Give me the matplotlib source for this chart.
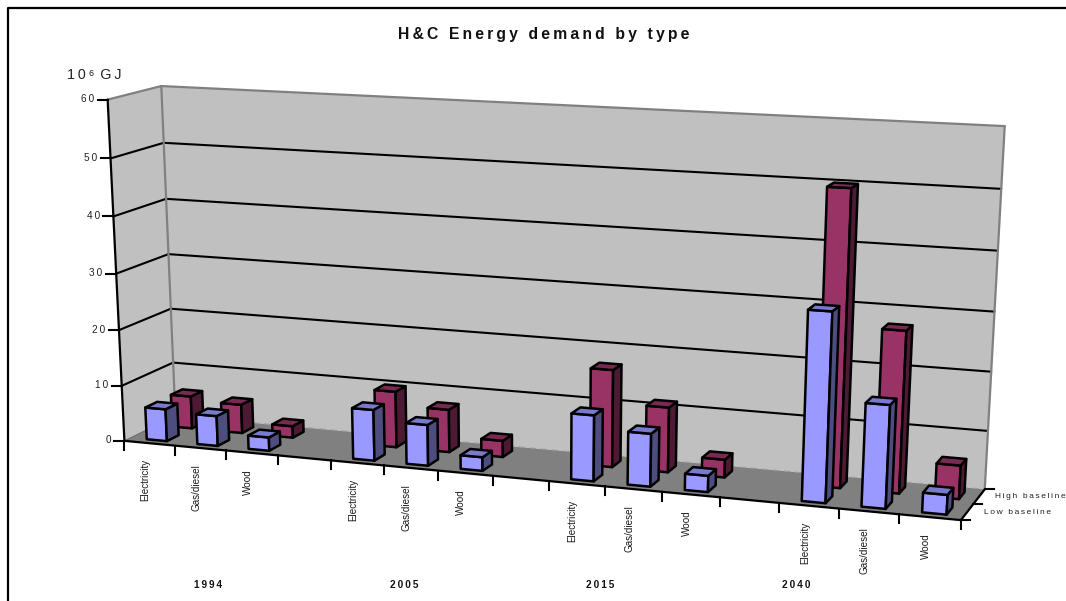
import matplotlib
matplotlib.use('Agg')
import matplotlib.pyplot as plt
import numpy as np
from matplotlib.patches import Polygon

plt.rcParams['font.family'] = ['Liberation Sans', 'DejaVu Sans']

years = ['1994', '2005', '2015', '2040']
fuels = ['Electricity', 'Gas/diesel', 'Wood']
series_names = ['Low baseline', 'High baseline']
low_baseline = [5.8, 5.4, 2.4, 9.0, 7.2, 2.4, 11.4, 9.1, 2.8, 31.8, 17.3, 3.3]
high_baseline = [5.9, 5.2, 2.1, 10.0, 7.6, 2.9, 17.0, 11.3, 3.1, 50.0, 27.4, 5.7]
value_ticks = [0, 10, 20, 30, 40, 50, 60]

BLUE = ('#9999FF', '#4D4D80', '#7A7ACC')
CRIMSON = ('#993366', '#4D1A33', '#7A2952')
N_SLOTS = 15
V_MAX = 60

# view of the box: slot, depth, value -> pixel position
view_points = [
    (0, 0, 0, 126, 441), (0, 0, 30, 114, 273), (0, 0, 60, 108.3, 100),
    (0, 1, 0, 175, 416), (0, 1, 30, 168.5, 254), (0, 1, 60, 161.7, 86),
    (15, 1, 0, 985, 489), (15, 1, 30, 994, 312), (15, 1, 60, 1005, 126),
    (15, 0, 0, 961, 520), (5, 0, 0, 384, 465.5), (10, 0, 0, 662, 492),
]


def fit_view(points):
    rows = []
    for u, d, v, x, y in points:
        p = [u / N_SLOTS, d, v / V_MAX, 1]
        x, y = x / 1000, y / 1000
        rows.append(p + [0, 0, 0, 0] + [-x * c for c in p])
        rows.append([0, 0, 0, 0] + p + [-y * c for c in p])
    _, _, vt = np.linalg.svd(np.array(rows))
    return vt[-1].reshape(3, 4)


VIEW = fit_view(view_points)


def project(u, d, v):
    h = VIEW @ np.array([u / N_SLOTS, d, v / V_MAX, 1])
    return h[0] / h[2] * 1000, h[1] / h[2] * 1000


def face(ax, corners, color, edge='none', lw=0, z=1):
    ax.add_patch(Polygon([project(*c) for c in corners], closed=True, facecolor=color,
                         edgecolor=edge, linewidth=lw, joinstyle='round', zorder=z))


def line(ax, a, b, color='black', lw=1.5, z=2, ls='-'):
    (x0, y0), (x1, y1) = project(*a), project(*b)
    ax.plot([x0, x1], [y0, y1], color=color, lw=lw, zorder=z, ls=ls, solid_capstyle='round')


def bar(ax, slot, depth, value, colors):
    u0, u1 = slot + 0.32, slot + 0.72
    d0, d1 = depth + 0.12, depth + 0.35
    front, side, top = colors
    face(ax, [(u0, d0, 0), (u1, d0, 0), (u1, d0, value), (u0, d0, value)], front, 'black', 1.8, 5)
    face(ax, [(u1, d0, 0), (u1, d1, 0), (u1, d1, value), (u1, d0, value)], side, 'black', 1.8, 5)
    face(ax, [(u0, d0, value), (u1, d0, value), (u1, d1, value), (u0, d1, value)], top, 'black', 1.8, 5)


def tracked(text, gap='\u200a'):
    return gap.join(text)


fig = plt.figure(figsize=(10.66, 6.01), dpi=100)
ax = fig.add_axes([0, 0, 1, 1])
ax.set_xlim(0, 1066)
ax.set_ylim(601, 0)
ax.axis('off')

# outer chart frame runs off the right and bottom edges
ax.plot([8, 8, 1070], [610, 8, 8], color='black', lw=1.6, zorder=1)

# walls and floor
face(ax, [(0, 1, 0), (15, 1, 0), (15, 1, 60), (0, 1, 60)], '#C0C0C0')
face(ax, [(0, 0, 0), (0, 1, 0), (0, 1, 60), (0, 0, 60)], '#C0C0C0')
face(ax, [(0, 0, 0), (15, 0, 0), (15, 1, 0), (0, 1, 0)], '#808080')

for tick in value_ticks[1:-1]:
    line(ax, (0, 0, tick), (0, 1, tick))
    line(ax, (0, 1, tick), (15, 1, tick))

line(ax, (0, 1, 0), (0, 1, 60), '#808080', 1.6)
line(ax, (15, 1, 0), (15, 1, 60), '#808080', 1.6)
line(ax, (0, 0, 60), (0, 1, 60), '#808080', 1.6)
line(ax, (0, 1, 60), (15, 1, 60), '#808080', 1.6)
line(ax, (0, 1, 0), (15, 1, 0), '#9A9A9A', 0.8, ls=(0, (6, 4)))
line(ax, (0, 0, 0), (0, 1, 0), '#6E6E6E', 0.8)

# axis lines
line(ax, (0, 0, 0), (0, 0, 60), lw=1.6, z=3)
line(ax, (0, 0, 0), (15, 0, 0), lw=1.6, z=3)
line(ax, (15, 0, 0), (15, 1, 0), lw=1.6, z=3)

for tick in value_ticks:
    x, y = project(0, 0, tick)
    ax.plot([x - 10, x], [y, y], color='black', lw=1.5, zorder=3)
    ax.text(x - 13.5, y - 0.5, tracked(str(tick), '\u2009'), ha='right', va='center', fontsize=7.2, color='#222222')

for slot in range(N_SLOTS + 1):
    x, y = project(slot, 0, 0)
    ax.plot([x, x], [y, y + 9], color='black', lw=1.5, zorder=3)

for depth in [0, 0.5, 1]:
    x, y = project(15, depth, 0)
    ax.plot([x, x + 9], [y, y], color='black', lw=1.5, zorder=3)

# series: back row first so the front row overlaps it
slots = [i * 4 + j for i in range(len(years)) for j in range(len(fuels))]
for slot, value in zip(slots, high_baseline):
    bar(ax, slot, 0.5, value, CRIMSON)
for slot, value in zip(slots, low_baseline):
    bar(ax, slot, 0, value, BLUE)

for slot in slots:
    x, y = project(slot + 0.5, 0, 0)
    ax.text(x - 4, y + 16, fuels[slot % 4], rotation=90, ha='center', va='top', fontsize=7.1, color='#1A1A1A')

for i, year in enumerate(years):
    ax.text(208 + 196 * i, 585, tracked(year, '\u2009'), ha='center', va='center', fontsize=7.2,
            fontweight='bold', color='#111111')

ax.text(984, 512, tracked(series_names[0], '\u2009'), ha='left', va='center', fontsize=6.0, color='#222222')
ax.text(995, 496, tracked(series_names[1], '\u2009'), ha='left', va='center', fontsize=6.0, color='#222222')

ax.text(544, 34.5, tracked('H&C Energy demand by type', '\u2009'), ha='center', va='center', fontsize=11.3,
        fontweight='bold', color='#111111')
ax.text(67, 75, '1\u20090\u2009\u2076\u2009\u2009G\u2009J', ha='left', va='center', fontsize=10.3, color='#222222')

plt.savefig('out.png', dpi=100)
plt.close(fig)
